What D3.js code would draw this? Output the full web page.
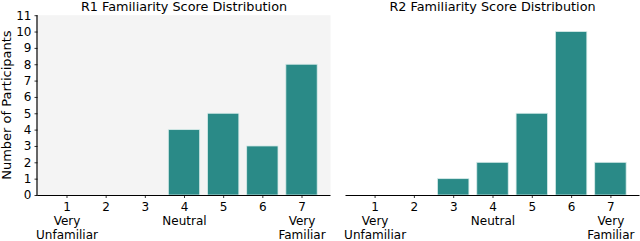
<!DOCTYPE html>
<html><head><meta charset="utf-8">
<script src="https://cdn.jsdelivr.net/npm/d3@7"></script>
<style>body{margin:0;background:#fff}svg{display:block}text{font-family:"DejaVu Sans",sans-serif}</style>
</head><body>
<script>
const scores = [1,2,3,4,5,6,7];
const tickLabels = [["1","Very","Unfamiliar"],["2"],["3"],["4","Neutral"],["5"],["6"],["7","Very","Familiar"]];
const r1Counts = [0,0,0,4,5,3,8];
const r2Counts = [0,0,1,2,5,10,2];
const yTicks = [0,1,2,3,4,5,6,7,8,9,10,11];
const titles = ["R1 Familiarity Score Distribution","R2 Familiarity Score Distribution"];

const W=640,H=241;
const svg=d3.select("body").append("svg").attr("width",W).attr("height",H);
const y=d3.scaleLinear().domain([0,11]).range([195,15.2]);
const color="#2a8a87";

function panel(x0,x1,counts,title,showY,bg){
  const x=d3.scaleLinear().domain([0.26,7.74]).range([x0,x1]);
  const g=svg.append("g");
  if(bg) g.append("rect").attr("x",x0).attr("y",y(11)).attr("width",x1-x0).attr("height",y(0)-y(11)).attr("fill","#f4f4f4");
  g.selectAll("rect.bar").data(scores).join("rect").attr("class","bar")
    .attr("x",d=>x(d-0.4)).attr("width",d=>x(d+0.4)-x(d-0.4))
    .attr("y",(d,i)=>y(counts[i])).attr("height",(d,i)=>y(0)-y(counts[i]))
    .attr("fill",color).attr("stroke","#d8ecea").attr("stroke-width",0.8)
    .attr("display",(d,i)=>counts[i]>0?null:"none");
  const xa=d3.axisBottom(x).tickValues(scores).tickSize(3).tickFormat("");
  const ga=g.append("g").attr("transform",`translate(0,${y(0)})`).call(xa);
  ga.select(".domain").attr("d",`M${x0},0.5H${x1}`).attr("stroke","#000").attr("stroke-width",1.2);
  ga.selectAll(".tick line").attr("stroke","#000").attr("stroke-width",0.8);
  ga.selectAll(".tick").each(function(d,i){
    const t=d3.select(this).append("text").attr("fill","#000").attr("font-size",12).attr("text-anchor","middle").attr("y",15.5);
    tickLabels[i].forEach((s,j)=>t.append("tspan").attr("x",0).attr("dy",j?14.4:0).text(s));
  });
  if(showY){
    const ya=d3.axisLeft(y).tickValues(yTicks).tickSize(3).tickFormat(d3.format("d"));
    const gy=g.append("g").attr("transform",`translate(${x0},0)`).call(ya);
    gy.select(".domain").attr("d",`M-0.5,${y(11)}V${y(0)+1}`).attr("stroke","#000").attr("stroke-width",1.2);
    gy.selectAll(".tick line").attr("stroke","#000").attr("stroke-width",0.8);
    gy.selectAll(".tick text").attr("font-size",12).attr("font-family","DejaVu Sans").attr("fill","#000").attr("x",-6);
    g.append("text").attr("transform",`translate(10.5,${(y(0)+y(11))/2}) rotate(-90)`).attr("text-anchor","middle")
      .attr("font-size",13).text("Number of Participants");
  }
  g.append("text").attr("x",(x0+x1)/2).attr("y",10.5).attr("text-anchor","middle").attr("font-size",12.8).text(title);
}
panel(37.5,330.5,r1Counts,titles[0],true,true);
panel(345.5,639.5,r2Counts,titles[1],false,false);
</script>
</body></html>
